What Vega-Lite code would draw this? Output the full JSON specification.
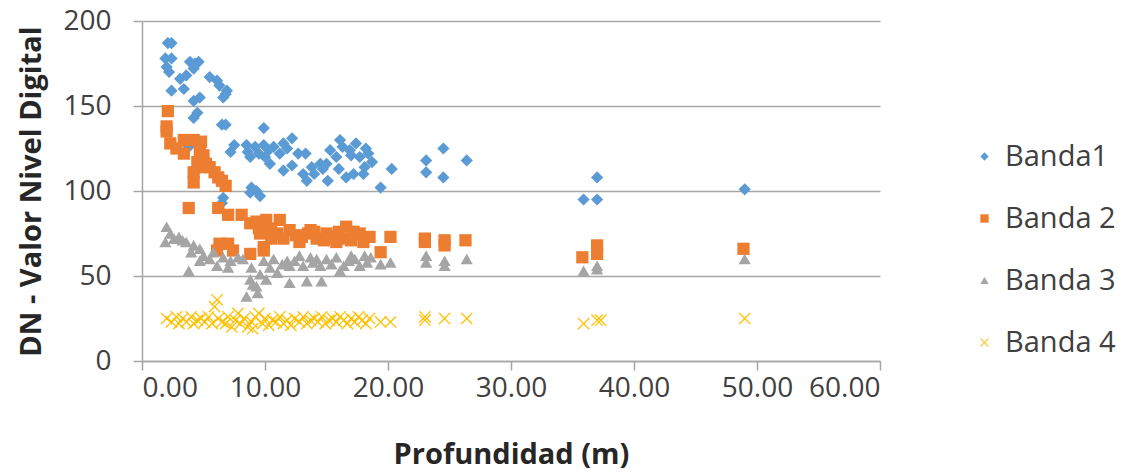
{
  "$schema": "https://vega.github.io/schema/vega-lite/v6.json",
  "width": 738,
  "height": 340,
  "autosize": "none",
  "padding": {"left": 142, "top": 21, "right": 244, "bottom": 112},
  "background": "white",
  "config": {
    "view": {"stroke": null},
    "font": "Open Sans"
  },
  "data": {
    "values": [
      {"b":"Banda1","d":2.1,"v":187},{"b":"Banda1","d":2.4,"v":187},{"b":"Banda1","d":1.9,"v":178},{"b":"Banda1","d":2.4,"v":178},
      {"b":"Banda1","d":2.0,"v":173},{"b":"Banda1","d":2.2,"v":170},{"b":"Banda1","d":3.1,"v":166},{"b":"Banda1","d":3.4,"v":160},
      {"b":"Banda1","d":2.4,"v":159},{"b":"Banda1","d":3.9,"v":176},{"b":"Banda1","d":4.3,"v":175},{"b":"Banda1","d":4.6,"v":176},
      {"b":"Banda1","d":4.2,"v":172},{"b":"Banda1","d":3.6,"v":168},{"b":"Banda1","d":5.5,"v":167},{"b":"Banda1","d":6.1,"v":165},
      {"b":"Banda1","d":6.3,"v":162},{"b":"Banda1","d":6.9,"v":159},{"b":"Banda1","d":6.6,"v":155},{"b":"Banda1","d":6.8,"v":157},
      {"b":"Banda1","d":4.2,"v":153},{"b":"Banda1","d":4.7,"v":155},{"b":"Banda1","d":4.5,"v":146},{"b":"Banda1","d":4.2,"v":143},
      {"b":"Banda1","d":6.5,"v":139},{"b":"Banda1","d":6.8,"v":139},{"b":"Banda1","d":9.9,"v":137},{"b":"Banda1","d":8.5,"v":127},
      {"b":"Banda1","d":8.6,"v":123},{"b":"Banda1","d":9.2,"v":126},{"b":"Banda1","d":9.9,"v":127},{"b":"Banda1","d":10.7,"v":126},
      {"b":"Banda1","d":11.5,"v":128},{"b":"Banda1","d":12.2,"v":131},{"b":"Banda1","d":11.2,"v":122},{"b":"Banda1","d":10.4,"v":116},
      {"b":"Banda1","d":10.0,"v":120},{"b":"Banda1","d":11.5,"v":112},{"b":"Banda1","d":12.2,"v":115},{"b":"Banda1","d":13.3,"v":122},
      {"b":"Banda1","d":13.1,"v":110},{"b":"Banda1","d":13.4,"v":106},{"b":"Banda1","d":13.8,"v":114},{"b":"Banda1","d":14.5,"v":116},
      {"b":"Banda1","d":15.1,"v":106},{"b":"Banda1","d":15.3,"v":124},{"b":"Banda1","d":16.1,"v":130},{"b":"Banda1","d":15.8,"v":120},
      {"b":"Banda1","d":16.6,"v":108},{"b":"Banda1","d":16.9,"v":124},{"b":"Banda1","d":17.4,"v":128},{"b":"Banda1","d":17.7,"v":120},
      {"b":"Banda1","d":18.0,"v":110},{"b":"Banda1","d":18.4,"v":122},{"b":"Banda1","d":18.7,"v":117},{"b":"Banda1","d":18.1,"v":114},
      {"b":"Banda1","d":20.3,"v":113},{"b":"Banda1","d":19.4,"v":102},{"b":"Banda1","d":8.9,"v":102},{"b":"Banda1","d":9.6,"v":97},
      {"b":"Banda1","d":9.3,"v":100},{"b":"Banda1","d":3.8,"v":126},{"b":"Banda1","d":7.2,"v":123},{"b":"Banda1","d":8.8,"v":120},
      {"b":"Banda1","d":6.5,"v":93},{"b":"Banda1","d":6.6,"v":96},{"b":"Banda1","d":8.8,"v":99},{"b":"Banda1","d":24.5,"v":125},
      {"b":"Banda1","d":23.1,"v":118},{"b":"Banda1","d":26.4,"v":118},{"b":"Banda1","d":23.1,"v":111},{"b":"Banda1","d":24.5,"v":108},
      {"b":"Banda1","d":37.0,"v":108},{"b":"Banda1","d":35.9,"v":95},{"b":"Banda1","d":37.0,"v":95},{"b":"Banda1","d":49.0,"v":101},
      {"b":"Banda1","d":14.0,"v":110},{"b":"Banda1","d":15.0,"v":116},{"b":"Banda1","d":16.3,"v":126},{"b":"Banda1","d":17.0,"v":121},
      {"b":"Banda1","d":12.7,"v":122},{"b":"Banda1","d":9.5,"v":122},{"b":"Banda1","d":10.3,"v":124},{"b":"Banda1","d":14.7,"v":113},
      {"b":"Banda1","d":16.0,"v":113},{"b":"Banda1","d":17.2,"v":110},{"b":"Banda1","d":18.2,"v":125},{"b":"Banda1","d":11.8,"v":125},
      {"b":"Banda1","d":7.5,"v":127},

      {"b":"Banda 2","d":2.1,"v":147},{"b":"Banda 2","d":2.0,"v":138},{"b":"Banda 2","d":2.0,"v":135},{"b":"Banda 2","d":2.3,"v":128},
      {"b":"Banda 2","d":3.4,"v":130},{"b":"Banda 2","d":4.2,"v":130},{"b":"Banda 2","d":4.8,"v":129},{"b":"Banda 2","d":2.8,"v":125},
      {"b":"Banda 2","d":3.4,"v":122},{"b":"Banda 2","d":4.7,"v":124},{"b":"Banda 2","d":5.0,"v":121},{"b":"Banda 2","d":4.5,"v":117},
      {"b":"Banda 2","d":4.8,"v":114},{"b":"Banda 2","d":4.2,"v":111},{"b":"Banda 2","d":4.2,"v":105},{"b":"Banda 2","d":5.5,"v":114},
      {"b":"Banda 2","d":5.9,"v":111},{"b":"Banda 2","d":6.2,"v":108},{"b":"Banda 2","d":6.5,"v":106},{"b":"Banda 2","d":6.8,"v":103},
      {"b":"Banda 2","d":5.2,"v":116},{"b":"Banda 2","d":3.8,"v":90},{"b":"Banda 2","d":6.2,"v":90},{"b":"Banda 2","d":7.0,"v":86},
      {"b":"Banda 2","d":8.1,"v":86},{"b":"Banda 2","d":8.8,"v":81},{"b":"Banda 2","d":9.3,"v":82},{"b":"Banda 2","d":9.6,"v":75},
      {"b":"Banda 2","d":6.3,"v":69},{"b":"Banda 2","d":7.0,"v":69},{"b":"Banda 2","d":6.1,"v":65},{"b":"Banda 2","d":7.4,"v":65},
      {"b":"Banda 2","d":8.8,"v":63},{"b":"Banda 2","d":9.9,"v":67},{"b":"Banda 2","d":10.1,"v":83},{"b":"Banda 2","d":11.2,"v":83},
      {"b":"Banda 2","d":10.5,"v":78},{"b":"Banda 2","d":12.0,"v":77},{"b":"Banda 2","d":13.7,"v":77},{"b":"Banda 2","d":15.0,"v":75},
      {"b":"Banda 2","d":16.6,"v":79},{"b":"Banda 2","d":17.7,"v":75},{"b":"Banda 2","d":18.5,"v":73},{"b":"Banda 2","d":20.2,"v":73},
      {"b":"Banda 2","d":19.4,"v":64},{"b":"Banda 2","d":15.8,"v":70},{"b":"Banda 2","d":12.8,"v":70},{"b":"Banda 2","d":9.9,"v":65},
      {"b":"Banda 2","d":11.0,"v":75},{"b":"Banda 2","d":12.5,"v":74},{"b":"Banda 2","d":13.0,"v":73},{"b":"Banda 2","d":14.2,"v":72},
      {"b":"Banda 2","d":14.8,"v":71},{"b":"Banda 2","d":15.5,"v":73},{"b":"Banda 2","d":16.0,"v":76},{"b":"Banda 2","d":16.5,"v":72},
      {"b":"Banda 2","d":17.2,"v":76},{"b":"Banda 2","d":17.0,"v":71},{"b":"Banda 2","d":18.0,"v":70},{"b":"Banda 2","d":11.5,"v":72},
      {"b":"Banda 2","d":10.5,"v":72},{"b":"Banda 2","d":9.5,"v":78},{"b":"Banda 2","d":13.5,"v":75},{"b":"Banda 2","d":14.0,"v":76},
      {"b":"Banda 2","d":23.0,"v":72},{"b":"Banda 2","d":24.6,"v":71},{"b":"Banda 2","d":26.3,"v":71},{"b":"Banda 2","d":35.8,"v":61},
      {"b":"Banda 2","d":37.0,"v":68},{"b":"Banda 2","d":37.0,"v":63},{"b":"Banda 2","d":48.9,"v":66},{"b":"Banda 2","d":23.0,"v":70},
      {"b":"Banda 2","d":24.6,"v":68},

      {"b":"Banda 3","d":2.0,"v":79},{"b":"Banda 3","d":2.3,"v":75},{"b":"Banda 3","d":1.9,"v":70},{"b":"Banda 3","d":3.0,"v":73},
      {"b":"Banda 3","d":3.6,"v":70},{"b":"Banda 3","d":4.2,"v":68},{"b":"Banda 3","d":4.7,"v":66},{"b":"Banda 3","d":4.7,"v":59},
      {"b":"Banda 3","d":5.5,"v":60},{"b":"Banda 3","d":3.8,"v":53},{"b":"Banda 3","d":6.1,"v":56},{"b":"Banda 3","d":6.6,"v":61},
      {"b":"Banda 3","d":7.2,"v":59},{"b":"Banda 3","d":8.2,"v":60},{"b":"Banda 3","d":8.8,"v":48},{"b":"Banda 3","d":8.5,"v":38},
      {"b":"Banda 3","d":9.3,"v":44},{"b":"Banda 3","d":8.9,"v":55},{"b":"Banda 3","d":9.9,"v":59},{"b":"Banda 3","d":9.6,"v":51},
      {"b":"Banda 3","d":2.6,"v":72},{"b":"Banda 3","d":3.3,"v":71},{"b":"Banda 3","d":4.0,"v":64},{"b":"Banda 3","d":5.0,"v":62},
      {"b":"Banda 3","d":5.8,"v":64},{"b":"Banda 3","d":7.0,"v":55},{"b":"Banda 3","d":7.8,"v":61},{"b":"Banda 3","d":10.7,"v":60},
      {"b":"Banda 3","d":11.8,"v":59},{"b":"Banda 3","d":12.8,"v":62},{"b":"Banda 3","d":13.7,"v":61},{"b":"Banda 3","d":15.0,"v":60},
      {"b":"Banda 3","d":15.8,"v":61},{"b":"Banda 3","d":17.0,"v":62},{"b":"Banda 3","d":18.1,"v":62},{"b":"Banda 3","d":17.7,"v":56},
      {"b":"Banda 3","d":16.4,"v":56},{"b":"Banda 3","d":14.5,"v":56},{"b":"Banda 3","d":13.1,"v":56},{"b":"Banda 3","d":12.0,"v":56},
      {"b":"Banda 3","d":11.0,"v":52},{"b":"Banda 3","d":12.0,"v":46},{"b":"Banda 3","d":13.4,"v":47},{"b":"Banda 3","d":14.6,"v":47},
      {"b":"Banda 3","d":10.1,"v":48},{"b":"Banda 3","d":19.4,"v":57},{"b":"Banda 3","d":20.2,"v":58},{"b":"Banda 3","d":23.1,"v":62},
      {"b":"Banda 3","d":23.1,"v":58},{"b":"Banda 3","d":24.6,"v":59},{"b":"Banda 3","d":24.6,"v":56},{"b":"Banda 3","d":26.4,"v":60},
      {"b":"Banda 3","d":35.9,"v":53},{"b":"Banda 3","d":37.0,"v":56},{"b":"Banda 3","d":37.0,"v":54},{"b":"Banda 3","d":49.0,"v":60},
      {"b":"Banda 3","d":9.0,"v":45},{"b":"Banda 3","d":10.4,"v":55},{"b":"Banda 3","d":11.4,"v":57},{"b":"Banda 3","d":12.4,"v":59},
      {"b":"Banda 3","d":13.9,"v":58},{"b":"Banda 3","d":15.4,"v":57},{"b":"Banda 3","d":16.8,"v":59},{"b":"Banda 3","d":18.3,"v":58},
      {"b":"Banda 3","d":17.3,"v":60},{"b":"Banda 3","d":14.2,"v":60},{"b":"Banda 3","d":9.4,"v":40},{"b":"Banda 3","d":18.6,"v":61},
      {"b":"Banda 3","d":16.1,"v":53},

      {"b":"Banda 4","d":2.0,"v":25},{"b":"Banda 4","d":2.4,"v":23},{"b":"Banda 4","d":2.8,"v":26},{"b":"Banda 4","d":3.0,"v":22},
      {"b":"Banda 4","d":3.3,"v":25},{"b":"Banda 4","d":3.6,"v":23},{"b":"Banda 4","d":4.0,"v":26},{"b":"Banda 4","d":4.2,"v":22},
      {"b":"Banda 4","d":4.5,"v":24},{"b":"Banda 4","d":4.8,"v":25},{"b":"Banda 4","d":5.1,"v":23},{"b":"Banda 4","d":5.4,"v":26},
      {"b":"Banda 4","d":5.7,"v":22},{"b":"Banda 4","d":6.1,"v":36},{"b":"Banda 4","d":5.9,"v":32},{"b":"Banda 4","d":6.2,"v":25},
      {"b":"Banda 4","d":6.5,"v":23},{"b":"Banda 4","d":6.8,"v":22},{"b":"Banda 4","d":7.0,"v":26},{"b":"Banda 4","d":7.3,"v":20},
      {"b":"Banda 4","d":7.6,"v":24},{"b":"Banda 4","d":8.0,"v":22},{"b":"Banda 4","d":8.3,"v":25},{"b":"Banda 4","d":8.6,"v":20},
      {"b":"Banda 4","d":8.9,"v":23},{"b":"Banda 4","d":9.2,"v":26},{"b":"Banda 4","d":9.5,"v":28},{"b":"Banda 4","d":9.8,"v":22},
      {"b":"Banda 4","d":10.0,"v":25},{"b":"Banda 4","d":10.3,"v":21},{"b":"Banda 4","d":10.6,"v":24},{"b":"Banda 4","d":10.9,"v":23},
      {"b":"Banda 4","d":11.2,"v":26},{"b":"Banda 4","d":11.5,"v":22},{"b":"Banda 4","d":11.8,"v":24},{"b":"Banda 4","d":12.1,"v":21},
      {"b":"Banda 4","d":12.4,"v":25},{"b":"Banda 4","d":12.8,"v":23},{"b":"Banda 4","d":13.1,"v":26},{"b":"Banda 4","d":13.4,"v":22},
      {"b":"Banda 4","d":13.7,"v":24},{"b":"Banda 4","d":14.0,"v":25},{"b":"Banda 4","d":14.3,"v":23},{"b":"Banda 4","d":14.6,"v":26},
      {"b":"Banda 4","d":14.9,"v":22},{"b":"Banda 4","d":15.2,"v":24},{"b":"Banda 4","d":15.5,"v":25},{"b":"Banda 4","d":15.8,"v":23},
      {"b":"Banda 4","d":16.1,"v":26},{"b":"Banda 4","d":16.4,"v":24},{"b":"Banda 4","d":16.7,"v":22},{"b":"Banda 4","d":17.0,"v":25},
      {"b":"Banda 4","d":17.3,"v":23},{"b":"Banda 4","d":17.6,"v":26},{"b":"Banda 4","d":17.9,"v":24},{"b":"Banda 4","d":18.2,"v":22},
      {"b":"Banda 4","d":18.5,"v":25},{"b":"Banda 4","d":19.4,"v":23},{"b":"Banda 4","d":20.2,"v":23},{"b":"Banda 4","d":23.0,"v":24},
      {"b":"Banda 4","d":23.0,"v":26},{"b":"Banda 4","d":24.6,"v":25},{"b":"Banda 4","d":26.4,"v":25},{"b":"Banda 4","d":35.9,"v":22},
      {"b":"Banda 4","d":37.0,"v":24},{"b":"Banda 4","d":37.3,"v":24},{"b":"Banda 4","d":49.0,"v":25},{"b":"Banda 4","d":9.0,"v":19},
      {"b":"Banda 4","d":7.8,"v":28}
    ]
  },
  "mark": {"type": "point", "filled": true, "opacity": 1, "size": 150},
  "encoding": {
    "x": {
      "field": "d", "type": "quantitative",
      "scale": {"domain": [0, 60], "nice": false, "zero": true},
      "axis": {
        "title": "Profundidad (m)",
        "values": [0, 10, 20, 30, 40, 50, 60],
        "format": ".2f",
        "grid": false,
        "domainColor": "#A6A6A6", "domainWidth": 1.5,
        "tickColor": "#A6A6A6", "tickWidth": 1.5, "tickSize": 9,
        "labelFont": "Open Sans", "labelFontSize": 28, "labelColor": "#404040",
        "labelPadding": 4,
        "titleFont": "Open Sans", "titleFontSize": 29, "titleFontWeight": "bold", "titleColor": "#262626",
        "titlePadding": 38
      }
    },
    "y": {
      "field": "v", "type": "quantitative",
      "scale": {"domain": [0, 200], "nice": false},
      "axis": {
        "title": "DN - Valor Nivel Digital",
        "values": [0, 50, 100, 150, 200],
        "grid": true, "gridColor": "#A6A6A6", "gridWidth": 1.5,
        "domainColor": "#A6A6A6", "domainWidth": 1.5,
        "tickColor": "#A6A6A6", "tickWidth": 1.5, "tickSize": 9,
        "labelFont": "Open Sans", "labelFontSize": 28, "labelColor": "#404040",
        "labelPadding": 22,
        "titleFont": "Open Sans", "titleFontSize": 29, "titleFontWeight": "bold", "titleColor": "#262626",
        "titlePadding": 16
      }
    },
    "color": {
      "field": "b", "type": "nominal",
      "scale": {"domain": ["Banda1", "Banda 2", "Banda 3", "Banda 4"], "range": ["#5B9BD5", "#ED7D31", "#A5A5A5", "#FFC000"]},
      "legend": {
        "title": null,
        "orient": "none",
        "legendX": 828,
        "legendY": 121,
        "symbolSize": 70,
        "symbolOpacity": 1,
        "labelFont": "Open Sans", "labelFontSize": 29, "labelColor": "#404040",
        "labelOffset": 6,
        "rowPadding": 32
      }
    },
    "shape": {
      "field": "b", "type": "nominal",
      "scale": {"domain": ["Banda1", "Banda 2", "Banda 3", "Banda 4"], "range": ["diamond", "square", "triangle-up", "M-1,-0.85L-0.85,-1L0,-0.15L0.85,-1L1,-0.85L0.15,0L1,0.85L0.85,1L0,0.15L-0.85,1L-1,0.85L-0.15,0Z"]}
    }
  }
}
